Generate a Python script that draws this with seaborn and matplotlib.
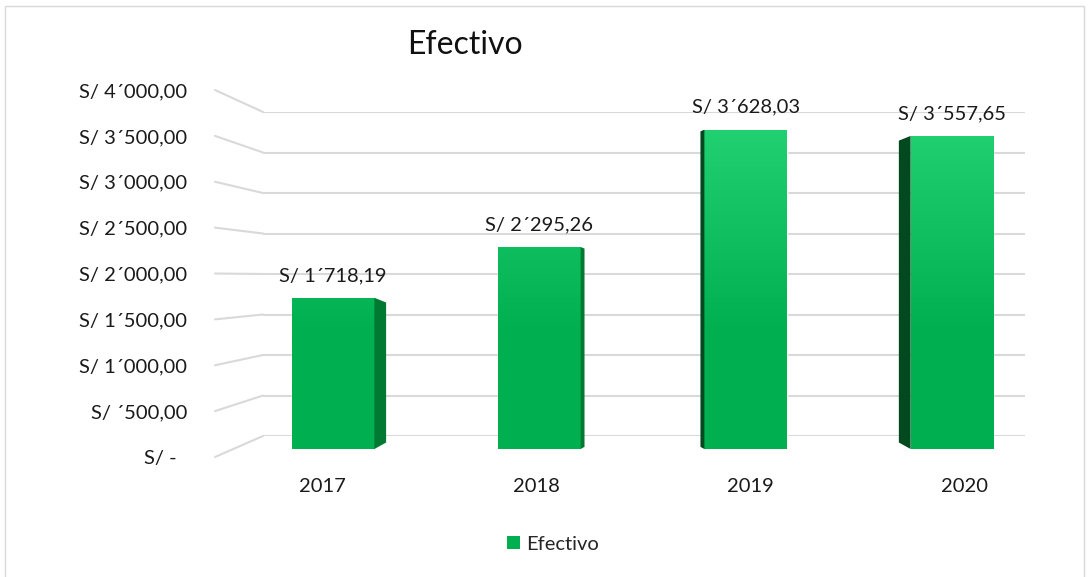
"""
Efectivo 2017-2020 - bar chart mimicking the Excel 3D column look
"""
import numpy as np
import pandas as pd
import matplotlib
matplotlib.use('Agg')
import matplotlib.pyplot as plt
import seaborn as sns
from matplotlib.patches import Polygon, Rectangle
from matplotlib.lines import Line2D
from matplotlib.transforms import IdentityTransform

years = ['2017', '2018', '2019', '2020']
efectivo = [1718.19, 2295.26, 3628.03, 3557.65]
value_labels = ['S/ 1´718,19', 'S/ 2´295,26', 'S/ 3´628,03', 'S/ 3´557,65']
tick_vals = [0, 500, 1000, 1500, 2000, 2500, 3000, 3500, 4000]
tick_labels = ['S/ -  ', 'S/ ´500,00', 'S/ 1´000,00', 'S/ 1´500,00', 'S/ 2´000,00',
               'S/ 2´500,00', 'S/ 3´000,00', 'S/ 3´500,00', 'S/ 4´000,00']

df = pd.DataFrame({'year': years, 'efectivo': efectivo})

sns.set_theme(style='white')
plt.rcParams['font.family'] = ['Lato', 'DejaVu Sans']
FS = 14.5

W, H = 1088, 577
fig = plt.figure(figsize=(W / 100, H / 100), dpi=100)
fig.patch.set_facecolor('white')


def box(l, t, r, b):
    return [l / W, 1 - b / H, (r - l) / W, (b - t) / H]


# back wall: gridlines
ax_back = fig.add_axes(box(263, 112, 1025, 436))
ax_back.set_ylim(0, 4000)
ax_back.set_yticks(tick_vals)
ax_back.yaxis.grid(True, color='#D9D9D9', lw=1.5)
ax_back.set_xticks([])
ax_back.tick_params(left=False, labelleft=False)
for s in ax_back.spines.values():
    s.set_visible(False)
ax_back.patch.set_alpha(0)

# bars
ax_bar = fig.add_axes(box(230, 97, 1055, 449))
sns.barplot(data=df, x='year', y='efectivo', color='#00B050', width=0.40,
            saturation=1, ax=ax_bar, zorder=3)
ax_bar.set_xlim(-0.5, 3.5)
ax_bar.set_ylim(0, 4000)
ax_bar.patch.set_alpha(0)
ax_bar.axis('off')

# vertical gradient (lighter towards the top of the plot)
c0 = np.array([0, 176, 80]) / 255
c1 = np.array([34, 209, 114]) / 255
vals = np.linspace(0, 4000, 256)
t = np.clip((vals - 1300) / (3700 - 1300), 0, 1)
grad = (c0[None, :] * (1 - t[:, None]) + c1[None, :] * t[:, None])[:, None, :]
for p in ax_bar.patches:
    im = ax_bar.imshow(grad, extent=[p.get_x(), p.get_x() + p.get_width(), 0, 4000],
                       origin='lower', aspect='auto', zorder=4)
    im.set_clip_path(p)
ax_bar.set_xlim(-0.5, 3.5)
ax_bar.set_ylim(0, 4000)

for p, lab in zip(ax_bar.patches, value_labels):
    ax_bar.annotate(lab, (p.get_x() + p.get_width() / 2, p.get_height()),
                    xytext=(0, 10), textcoords='offset points', ha='center',
                    va='bottom', fontsize=FS, color='#1a1a1a')

# front: tick labels
ax_front = fig.add_axes(box(215, 90, 1071, 457))
ax_front.set_xlim(-0.5, 3.5)
ax_front.set_ylim(0, 4000)
ax_front.set_yticks(tick_vals)
ax_front.set_yticklabels(tick_labels, fontsize=FS, color='#1a1a1a')
ax_front.set_xticks(range(len(years)))
ax_front.set_xticklabels(years, fontsize=FS, color='#1a1a1a')
ax_front.tick_params(axis='y', length=0, pad=20)
ax_front.tick_params(axis='x', length=0, pad=15)
for s in ax_front.spines.values():
    s.set_visible(False)
ax_front.patch.set_alpha(0)

fig.canvas.draw()

# perspective sides of the columns
for p in ax_bar.patches:
    x0, y0 = ax_bar.transData.transform((p.get_x(), 0))
    x1, y1 = ax_bar.transData.transform((p.get_x() + p.get_width(), p.get_height()))
    d = (642 - (x0 + x1) / 2) * 0.038
    ex = x1 if d > 0 else x0
    ad = abs(d)
    pts = [(ex, y0), (ex, y1), (ex + d, y1 - 0.4 * ad), (ex + d, y0 + 0.55 * ad)]
    col = '#007A33' if d > 0 else '#03491F'
    fig.add_artist(Polygon(pts, closed=True, facecolor=col, edgecolor='none',
                           transform=IdentityTransform(), zorder=2))

# diagonal floor/wall lines at the left
for v in tick_vals:
    fx, fy = ax_front.transData.transform((-0.5, v))
    bx, by = ax_back.transAxes.transform((0, 0))[0], ax_back.transData.transform((0, v))[1]
    fig.add_artist(Line2D([fx, bx], [fy, by], color='#D9D9D9', lw=1.5,
                          transform=IdentityTransform(), zorder=0.5))

fig.text(465 / W, 1 - 45 / H, 'Efectivo', ha='center', va='center',
         fontsize=23, color='#111111')

handle = Rectangle((0, 0), 1, 1, facecolor='#00B050', edgecolor='none')
fig.legend([handle], ['Efectivo'], loc='center', bbox_to_anchor=(553 / W, 1 - 544 / H),
           frameon=False, fontsize=FS, handlelength=0.65, handleheight=0.65,
           handletextpad=0.3)

fig.add_artist(Rectangle((5 / W, 1 - 590 / H), 1079 / W, 584 / H, transform=fig.transFigure,
                         fill=False, edgecolor='#D9D9D9', lw=1))

fig.savefig('out.png', dpi=100)
